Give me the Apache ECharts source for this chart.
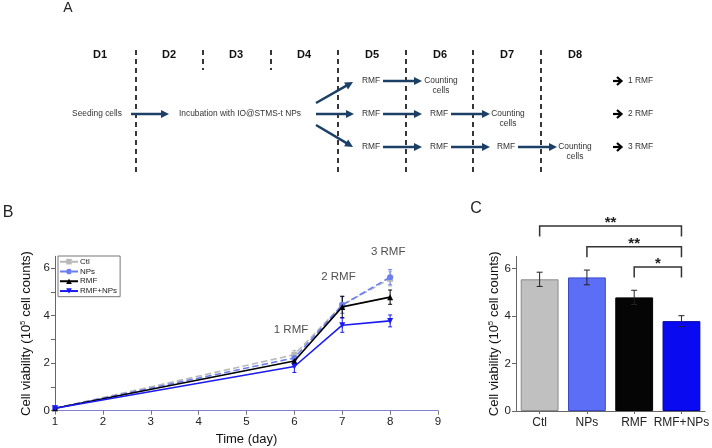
<!DOCTYPE html>
<html>
<head>
<meta charset="utf-8">
<script src="https://cdn.jsdelivr.net/npm/echarts@6/dist/echarts.min.js"></script>
<style>html,body{margin:0;padding:0;background:#fff}#c{width:712px;height:448px}</style>
</head>
<body>
<div id="c"></div>
<script>
// ---------- Panel B data ----------
const daysB = [1, 6, 7, 8];
const ctlMean = [0.1, 2.36, 4.45, 5.55];
const ctlErr = [0.03, 0.18, 0.35, 0.30];
const npsMean = [0.1, 2.22, 4.45, 5.62];
const npsErr = [0.03, 0.20, 0.35, 0.32];
const rmfMean = [0.1, 2.09, 4.37, 4.78];
const rmfErr = [0.03, 0.12, 0.45, 0.30];
const rmfNpsMean = [0.1, 1.86, 3.60, 3.78];
const rmfNpsErr = [0.03, 0.25, 0.30, 0.25];
const seriesNamesB = ['Ctl', 'NPs', 'RMF', 'RMF+NPs'];
const rmfNotes = ['1 RMF', '2 RMF', '3 RMF'];
const rmfNoteAt = [[5.93, 3.40], [6.92, 5.63], [7.96, 6.69]];
const yTicks = [0, 2, 4, 6];

// ---------- Panel C data ----------
const groupsC = ['Ctl', 'NPs', 'RMF', 'RMF+NPs'];
const barMean = [5.54, 5.62, 4.78, 3.78];
const barErr = [0.30, 0.31, 0.30, 0.23];
const sigFrom = [0, 1, 2];
const sigTo = [3, 3, 3];
const sigLevel = [7.78, 6.91, 6.06];
const sigLabel = ['**', '**', '*'];

// ---------- Panel A text ----------
const dayLabels = ['D1', 'D2', 'D3', 'D4', 'D5', 'D6', 'D7', 'D8'];
const outcomeLabels = ['1 RMF', '2 RMF', '3 RMF'];

const FONT = '"Liberation Sans", Arial, Helvetica, sans-serif';
const NAVY = '#1c3f66';
const colB = {'Ctl': '#b9b9b9', 'NPs': '#6b7ef0', 'RMF': '#000000', 'RMF+NPs': '#1a1af2'};
const barFill = ['#c0c0c0', '#5b6ef5', '#050505', '#0a0af0'];
const barBorder = ['#8a8a8a', '#3a4ac8', '#000000', '#0000a8'];

// ---------- Panel A graphics ----------
const g = [];
function txt(s, x, y, opt) {
  opt = opt || {};
  g.push({type: 'text', silent: true, style: Object.assign({
    text: s, x: x, y: y, align: 'center', verticalAlign: 'middle',
    font: (opt.weight || 'normal') + ' ' + (opt.size || 8.4) + 'px ' + FONT,
    fill: opt.color || '#333', lineHeight: opt.lh || 10
  }, opt.extra || {})});
}
function arrow(x1, y1, x2, y2, color, w, L, W) {
  color = color || NAVY; w = w || 2.5; L = L || 8; W = W || 4;
  const dx = x2 - x1, dy = y2 - y1, len = Math.sqrt(dx * dx + dy * dy);
  const ux = dx / len, uy = dy / len, nx = -uy, ny = ux;
  const bx = x2 - L * ux, by = y2 - L * uy;
  g.push({type: 'line', silent: true, shape: {x1: x1, y1: y1, x2: bx + ux, y2: by + uy},
    style: {stroke: color, lineWidth: w}});
  g.push({type: 'polygon', silent: true, shape: {points: [[x2, y2], [bx + W * nx, by + W * ny], [bx - W * nx, by - W * ny]]},
    style: {fill: color}});
}
// panel letters
txt('A', 68, 8, {size: 14, color: '#222'});
txt('B', 8, 213, {size: 16, color: '#222'});
txt('C', 476, 209, {size: 16, color: '#222'});
// day labels
const dayX = [100, 169, 236, 304, 372, 440, 507, 575];
dayLabels.forEach((d, i) => txt(d, dayX[i], 55, {size: 11, weight: 'bold', color: '#111'}));
// dashed separators
const dashX = [136, 203, 271, 338, 406, 473, 541];
dashX.forEach((x, i) => {
  const short = (i === 1 || i === 2);
  g.push({type: 'line', silent: true, shape: {x1: x, y1: 50, x2: x, y2: short ? 70 : 172},
    style: {stroke: '#222', lineWidth: 1.8, lineDash: [5, 4]}});
});
const rowY = [81, 114, 147];
txt('Seeding cells', 97, rowY[1]);
arrow(131, rowY[1], 169, rowY[1]);
txt('Incubation with IO@STMS-t NPs', 240, rowY[1]);
arrow(316, 103, 353, 82);
arrow(316, rowY[1], 354, rowY[1]);
arrow(316, 125, 353, 147);
const stepX = [371, 439, 506];
const countX = [441, 508, 575];
for (let r = 0; r < 3; r++) {
  for (let k = 0; k <= r; k++) {
    txt('RMF', stepX[k], rowY[r]);
    arrow(stepX[k] + 12, rowY[r], stepX[k] + 51, rowY[r]);
  }
  txt('Counting\ncells', countX[r], rowY[r] + 4.5, {lh: 10});
  // outcome arrow (black)
  g.push({type: 'line', silent: true, shape: {x1: 613, y1: rowY[r], x2: 621, y2: rowY[r]}, style: {stroke: '#000', lineWidth: 2.2}});
  g.push({type: 'polyline', silent: true, shape: {points: [[617, rowY[r] - 4], [621.5, rowY[r]], [617, rowY[r] + 4]]}, style: {stroke: '#000', lineWidth: 2.2, fill: null}});
  txt(outcomeLabels[r], 628, rowY[r], {extra: {align: 'left'}});
}

// ---------- helpers ----------
function errSeries(name, xIdx, data, color, cap, width) {
  return {
    type: 'custom', name: name, xAxisIndex: xIdx, yAxisIndex: xIdx, clip: false, z: 3,
    data: data, silent: true,
    renderItem: function (params, api) {
      const x = api.value(0), lo = api.value(1), hi = api.value(2);
      const a = api.coord([x, lo]), b = api.coord([x, hi]);
      const h = cap / 2, st = {stroke: color, lineWidth: width || 1};
      return {type: 'group', children: [
        {type: 'line', shape: {x1: a[0], y1: a[1], x2: b[0], y2: b[1]}, style: st},
        {type: 'line', shape: {x1: a[0] - h, y1: a[1], x2: a[0] + h, y2: a[1]}, style: st},
        {type: 'line', shape: {x1: b[0] - h, y1: b[1], x2: b[0] + h, y2: b[1]}, style: st}
      ]};
    }
  };
}
function pairs(xs, ys) { return xs.map((x, i) => [x, ys[i]]); }
function errs(xs, m, e) { return xs.map((x, i) => [x, m[i] - e[i], m[i] + e[i]]); }

const meansB = [ctlMean, npsMean, rmfMean, rmfNpsMean];
const errsB = [ctlErr, npsErr, rmfErr, rmfNpsErr];
const symB = ['rect', 'circle', 'triangle', 'path://M0,0 L10,0 L5,9 Z'];
const dashB = ['dashed', 'dashed', 'solid', 'solid'];

const series = [];
seriesNamesB.forEach((n, i) => {
  series.push(errSeries(n + ' err', 0, errs(daysB, meansB[i], errsB[i]), colB[n], 4, 1));
});
seriesNamesB.forEach((n, i) => {
  series.push({
    type: 'line', name: n, xAxisIndex: 0, yAxisIndex: 0, data: pairs(daysB, meansB[i]),
    symbol: symB[i], symbolSize: 6, showAllSymbol: true, z: 4 + i,
    lineStyle: {color: colB[n], width: 1.6, type: dashB[i]},
    itemStyle: {color: colB[n]}
  });
});
series.push({
  type: 'scatter', xAxisIndex: 0, yAxisIndex: 0, symbolSize: 0, clip: false, silent: true,
  data: rmfNoteAt.map((p, i) => ({value: p, name: rmfNotes[i]})),
  label: {show: true, position: 'inside', formatter: '{b}', color: '#222', fontSize: 11.5, fontFamily: FONT}
});
// Panel C bars
series.push({
  type: 'bar', xAxisIndex: 1, yAxisIndex: 1, barWidth: '80%',
  data: barMean.map((v, i) => ({value: v, itemStyle: {color: barFill[i], borderColor: barBorder[i], borderWidth: 1}}))
});
series.push(errSeries('bar err', 1, errs(groupsC.map((_, i) => i), barMean, barErr), '#222', 6, 1));
// significance brackets
series.push({
  type: 'custom', xAxisIndex: 1, yAxisIndex: 1, clip: false, silent: true, z: 5,
  data: sigFrom.map((f, i) => [f, sigTo[i], sigLevel[i]]),
  renderItem: function (params, api) {
    const a = api.coord([api.value(0), api.value(2)]);
    const b = api.coord([api.value(1), api.value(2)]);
    const drop = 10.5;
    return {type: 'group', children: [
      {type: 'polyline', shape: {points: [[a[0], a[1] + drop], a, b, [b[0], b[1] + drop]]},
        style: {stroke: '#333', lineWidth: 1.5, fill: null}},
      {type: 'text', style: {text: sigLabel[params.dataIndex], x: (a[0] + b[0]) / 2, y: a[1] - 3,
        align: 'center', verticalAlign: 'middle', font: 'bold 15px ' + FONT, fill: '#222'}}
    ]};
  }
});

const yName = '{a|Cell viability (10}{s|5}{a| cell counts)}';
const yNameRich = {a: {fontSize: 13, fontFamily: FONT, color: '#111'}, s: {fontSize: 8, fontFamily: FONT, color: '#111', verticalAlign: 'top', padding: [0, 0, 7, 0]}};
function yAxisDef(idx, gap) {
  return {
    type: 'value', gridIndex: idx, min: 0, max: 6.5, interval: 1,
    name: yName, nameLocation: 'middle', nameGap: gap, nameRotate: 90,
    nameTextStyle: {rich: yNameRich},
    axisLine: {show: true, lineStyle: {color: '#666', width: 1}},
    axisTick: {show: true, length: 4, lineStyle: {color: '#666'}, customValues: idx === 0 ? [0, 1, 2, 3, 4, 5, 6] : yTicks},
    axisLabel: {color: '#222', fontSize: 11.5, fontFamily: FONT, margin: 5, customValues: yTicks,
      formatter: v => (v % 2 === 0 ? String(v) : '')},
    splitLine: {show: false}
  };
}

const option = {
  animation: false,
  backgroundColor: '#fff',
  graphic: g,
  grid: [
    {left: 55, top: 256.3, width: 383, height: 154.4},
    {left: 516, top: 256.5, width: 191.5, height: 154.5}
  ],
  legend: {
    data: seriesNamesB, orient: 'vertical', left: 58, top: 256,
    itemWidth: 18, itemHeight: 7, itemGap: 0.5, padding: [1, 3, 1, 1],
    borderColor: '#777', borderWidth: 1, borderRadius: 0,
    textStyle: {fontSize: 8, fontFamily: FONT, color: '#222', padding: [0, 0, 0, -3], lineHeight: 9.3}
  },
  xAxis: [
    {type: 'value', gridIndex: 0, min: 1, max: 9, interval: 1,
      name: 'Time (day)', nameLocation: 'middle', nameGap: 22,
      nameTextStyle: {fontSize: 13, fontFamily: FONT, color: '#111'},
      axisLine: {show: true, lineStyle: {color: '#8080d0', width: 1}},
      axisTick: {show: true, length: 4, lineStyle: {color: '#777'}},
      axisLabel: {color: '#222', fontSize: 11.5, fontFamily: FONT, margin: 5},
      splitLine: {show: false}},
    {type: 'category', gridIndex: 1, data: groupsC,
      axisLine: {show: true, lineStyle: {color: '#666', width: 1}},
      axisTick: {show: true, alignWithLabel: true, length: 3, lineStyle: {color: '#666'}},
      axisLabel: {color: '#222', fontSize: 12, fontFamily: FONT, margin: 6, interval: 0}}
  ],
  yAxis: [yAxisDef(0, 14), yAxisDef(1, 13)],
  series: series
};
const chart = echarts.init(document.getElementById('c'), null, {renderer: 'canvas'});
chart.setOption(option);
</script>
</body>
</html>
